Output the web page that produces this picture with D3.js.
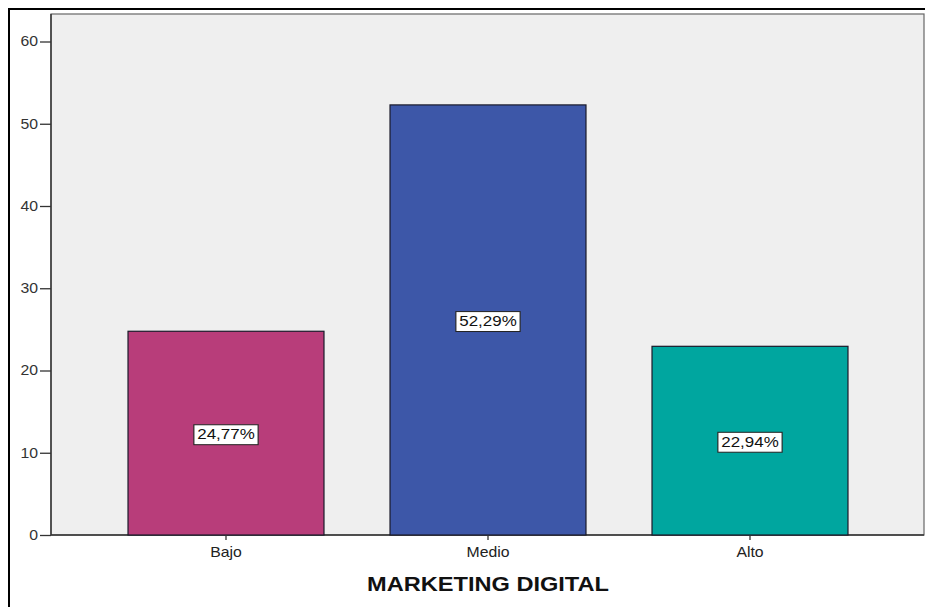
<!DOCTYPE html>
<html>
<head>
<meta charset="utf-8">
<script src="https://cdn.jsdelivr.net/npm/d3@7"></script>
<style>
  html, body { margin: 0; padding: 0; background: #fff; }
  svg { display: block; }
</style>
</head>
<body>
<svg id="chart" width="925" height="607"></svg>
<script>
// Distribución por nivel de marketing digital (porcentaje)
const categories = ["Bajo", "Medio", "Alto"];
const percentages = [24.77, 52.29, 22.94];
const barColors = ["#b83d7a", "#3d57a8", "#00a69f"];
const yTicks = [0, 10, 20, 30, 40, 50, 60];
const xTitle = "MARKETING DIGITAL";

const svg = d3.select("#chart");
const W = 925, H = 607;
const FONT = "Arial, 'Liberation Sans', sans-serif";
const STRETCH = 1.13; // slightly wide lettering

// Outer frame
svg.append("rect")
  .attr("x", 9).attr("y", 9)
  .attr("width", W + 10).attr("height", H + 10)
  .attr("fill", "none").attr("stroke", "#000").attr("stroke-width", 2);

const plot = { left: 51, right: 924, top: 14, bottom: 535 };

const y = d3.scaleLinear().domain([0, 60]).range([plot.bottom, 41.5]);
const x = d3.scaleBand().domain(categories)
  .range([95, 881]).paddingInner(0.252).paddingOuter(0.126);

// Plot background
svg.append("rect")
  .attr("x", plot.left).attr("y", plot.top)
  .attr("width", plot.right - plot.left).attr("height", plot.bottom - plot.top)
  .attr("fill", "#efefef").attr("stroke", "#666").attr("stroke-width", 1.2);
// Darker axis lines
svg.append("line")
  .attr("x1", plot.left).attr("x2", plot.left)
  .attr("y1", plot.top).attr("y2", plot.bottom)
  .attr("stroke", "#333").attr("stroke-width", 1.4);
svg.append("line")
  .attr("x1", plot.left).attr("x2", plot.right)
  .attr("y1", plot.bottom).attr("y2", plot.bottom)
  .attr("stroke", "#333").attr("stroke-width", 1.4);

// Bars
const data = categories.map((c, i) => ({ c, v: percentages[i], col: barColors[i] }));
svg.append("g").selectAll("rect").data(data).join("rect")
  .attr("x", d => x(d.c))
  .attr("y", d => y(d.v))
  .attr("width", x.bandwidth())
  .attr("height", d => y(0) - y(d.v))
  .attr("fill", d => d.col)
  .attr("stroke", "#1a1a2a").attr("stroke-width", 1.2);

// Value labels in boxes
const fmt = v => v.toFixed(2).replace(".", ",") + "%";
const lab = svg.append("g").selectAll("g").data(data).join("g")
  .attr("transform", d => `translate(${x(d.c) + x.bandwidth() / 2},${y(d.v / 2) + 1}) scale(${STRETCH},1)`);
lab.append("text")
  .attr("text-anchor", "middle").attr("dy", "0.35em")
  .attr("font-family", FONT)
  .attr("font-size", 15).attr("fill", "#111")
  .text(d => fmt(d.v));
lab.each(function () {
  const g = d3.select(this);
  const b = g.select("text").node().getBBox();
  g.insert("rect", "text")
    .attr("x", b.x - 3).attr("y", b.y - 1.5)
    .attr("width", b.width + 6).attr("height", b.height + 4)
    .attr("fill", "#fff").attr("stroke", "#222").attr("stroke-width", 1);
});

// Y axis
const yAxis = svg.append("g")
  .attr("transform", `translate(${plot.left},0)`)
  .call(d3.axisLeft(y).tickValues(yTicks).tickSize(11).tickPadding(2).tickFormat(d3.format("d")));
yAxis.select(".domain").remove();
yAxis.selectAll("line").attr("stroke", "#333").attr("stroke-width", 1.3);
yAxis.selectAll("text")
  .attr("x", 0)
  .attr("transform", `translate(-13,0) scale(${STRETCH},1)`)
  .attr("font-family", FONT)
  .attr("font-size", 14).attr("fill", "#333");

// X axis
const xAxis = svg.append("g")
  .attr("transform", `translate(0,${plot.bottom})`)
  .call(d3.axisBottom(x).tickSize(5).tickPadding(8));
xAxis.select(".domain").remove();
xAxis.selectAll("line").attr("stroke", "#333").attr("stroke-width", 1.3);
xAxis.selectAll("text")
  .attr("y", 0)
  .attr("transform", `translate(0,12) scale(${STRETCH},1)`)
  .attr("font-family", FONT)
  .attr("font-size", 14).attr("fill", "#222");

// Axis title
svg.append("text")
  .attr("transform", `translate(${x("Medio") + x.bandwidth() / 2},591) scale(1.18,1)`)
  .attr("text-anchor", "middle")
  .attr("font-family", FONT)
  .attr("font-size", 20).attr("font-weight", "bold").attr("fill", "#111")
  .text(xTitle);
</script>
</body>
</html>
